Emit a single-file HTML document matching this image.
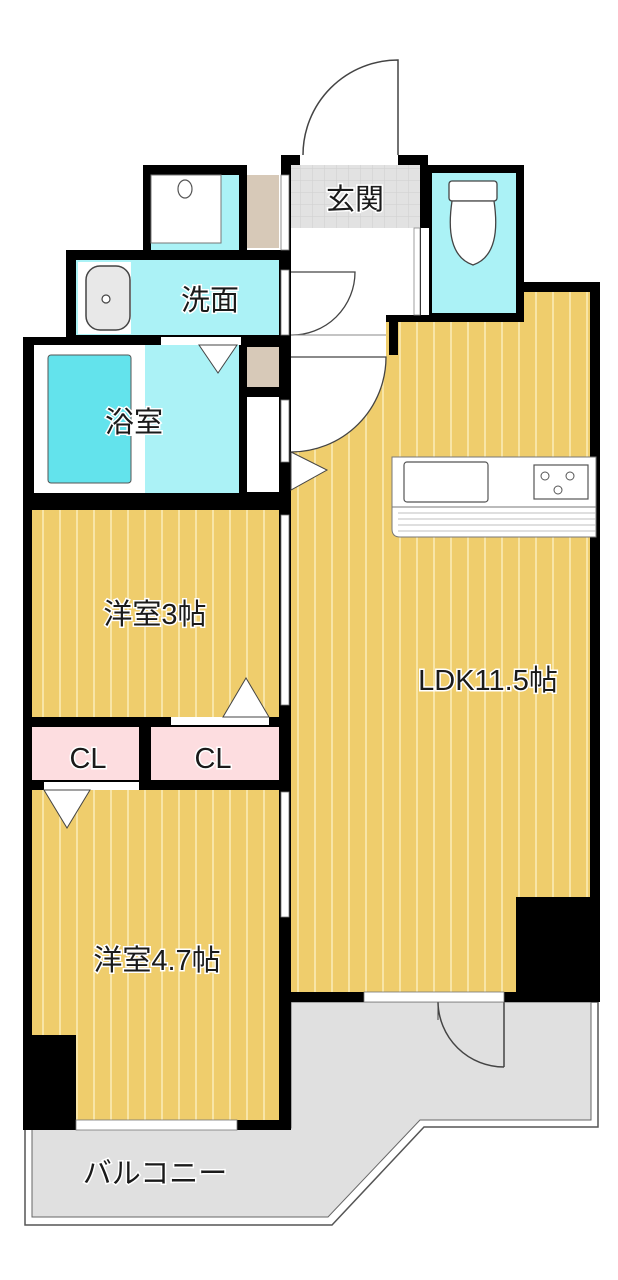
<!DOCTYPE html>
<html><head><meta charset="utf-8"><style>
html,body{margin:0;padding:0;background:#fff;}
svg{display:block;}
text{font-family:"Liberation Sans","Noto Sans CJK JP",sans-serif;fill:#1a1a1a;stroke:#fff;stroke-width:3px;paint-order:stroke;}
</style></head><body>
<svg width="618" height="1280" viewBox="0 0 618 1280" xmlns="http://www.w3.org/2000/svg">
<defs>
<pattern id="st" width="17" height="10" patternUnits="userSpaceOnUse">
<rect width="17" height="10" fill="#EFCD6C"/><rect x="8" width="2" height="10" fill="#F8E5A6"/>
</pattern>
<pattern id="tile" width="12" height="12" patternUnits="userSpaceOnUse">
<rect width="12" height="12" fill="#E2E2E2"/><path d="M0 0H12M0 0V12" stroke="#cfcfcf" stroke-width="1"/>
</pattern>
</defs>

<!-- balcony -->
<path d="M25 1128 V1225 H332 L424 1127 H598 V1002 H291 V1128 Z" fill="#fff" stroke="#555" stroke-width="1.5"/>
<path d="M32 1128 V1217 H328 L420 1120 H591 V1002 H291 V1128 Z" fill="#E0E0E0" stroke="#666" stroke-width="1"/>
<path d="M438 1002 A66 66 0 0 0 504 1067" fill="none" stroke="#444" stroke-width="1.5"/>
<line x1="504" y1="1002" x2="504" y2="1067" stroke="#444" stroke-width="1.5"/>
<line x1="438" y1="995" x2="438" y2="1020" stroke="#444" stroke-width="1"/>

<!-- entry door above -->
<path d="M398 155 V60 A95 95 0 0 0 303 155" fill="none" stroke="#444" stroke-width="1.5"/>

<rect x="143" y="165" width="104" height="85" fill="#000"/>
<rect x="66" y="250" width="225" height="95" fill="#000"/>
<rect x="23" y="337" width="268" height="166" fill="#000"/>
<rect x="23" y="503" width="268" height="627" fill="#000"/>
<rect x="281" y="155" width="147" height="310" fill="#000"/>
<rect x="428" y="165" width="96" height="150" fill="#000"/>
<path d="M388 315 H524 V282 H600 V1002 H281 V460 H388 Z" fill="#000"/>

<rect x="291" y="165" width="129" height="63" fill="url(#tile)"/>
<rect x="291" y="228" width="129" height="87" fill="#fff"/>
<rect x="291" y="315" width="95" height="145" fill="#fff"/>
<rect x="414" y="228" width="6" height="87" fill="#fff" stroke="#888" stroke-width="0.8"/>
<rect x="300" y="155" width="98" height="10" fill="#fff"/>
<path d="M291 272 H355 A63 63 0 0 1 291 335" fill="none" stroke="#444" stroke-width="1.3"/>
<line x1="291" y1="335" x2="386" y2="335" stroke="#888" stroke-width="1"/>

<rect x="247" y="175" width="32" height="73" fill="#D7C9B8"/>
<rect x="247" y="347" width="32" height="40" fill="#D7C9B8"/>
<rect x="281" y="175" width="8" height="75" fill="#fff" stroke="#777" stroke-width="0.8"/>
<rect x="281" y="270" width="8" height="65" fill="#fff" stroke="#777" stroke-width="0.8"/>
<rect x="281" y="400" width="8" height="62" fill="#fff" stroke="#777" stroke-width="0.8"/>
<rect x="247" y="397" width="32" height="95" fill="#fff"/>

<rect x="151" y="175" width="88" height="75" fill="#ABF2F6"/>
<rect x="151" y="175" width="70" height="68" fill="#fff" stroke="#777" stroke-width="1"/>
<ellipse cx="185" cy="189" rx="7" ry="9" fill="#fff" stroke="#555" stroke-width="1.2"/>
<rect x="76" y="260" width="203" height="75" fill="#ABF2F6"/>
<rect x="78" y="262" width="53" height="72" fill="#fff"/>
<rect x="86" y="266" width="44" height="64" rx="14" fill="#e8e8e8" stroke="#444" stroke-width="1.5"/>
<circle cx="106" cy="299" r="4" fill="#fff" stroke="#444" stroke-width="1.2"/>
<rect x="34" y="345" width="205" height="148" fill="#fff"/>
<rect x="145" y="345" width="94" height="148" fill="#ABF2F6"/>
<rect x="48" y="355" width="83" height="128" rx="3" fill="#63E3EC" stroke="#555" stroke-width="1"/>
<rect x="161" y="337" width="80" height="8" fill="#fff"/>
<path d="M199 345 H237 L218 373 Z" fill="#fff" stroke="#444" stroke-width="1"/>

<rect x="432" y="173" width="84" height="140" fill="#ABF2F6"/>
<rect x="421" y="228" width="8" height="87" fill="#fff"/>
<rect x="449" y="181" width="48" height="20" rx="3" fill="#fff" stroke="#444" stroke-width="1.3"/>
<path d="M452 201 Q444 255 473 265 Q502 255 494 201 Z" fill="#fff" stroke="#444" stroke-width="1.3"/>

<path d="M398 322 H524 V292 H590 V897 H516 V992 H291 V447 A95 95 0 0 0 386 357 V322 Z" fill="url(#st)"/>
<rect x="389" y="320" width="9" height="35" fill="#000"/>
<path d="M291 357 H386 A95 95 0 0 1 291 452" fill="#fff" stroke="#444" stroke-width="1.3"/>
<path d="M291 452 L327 470 L291 490 Z" fill="#fff" stroke="#444" stroke-width="1"/>
<rect x="364" y="992" width="140" height="10" fill="#fff" stroke="#777" stroke-width="0.8"/>
<rect x="392" y="457" width="204" height="50" fill="#fff" stroke="#777" stroke-width="1"/>
<rect x="404" y="462" width="84" height="40" rx="3" fill="#fff" stroke="#555" stroke-width="1.2"/>
<rect x="534" y="465" width="54" height="34" fill="#fff" stroke="#555" stroke-width="1.2"/>
<circle cx="545" cy="476" r="4" fill="none" stroke="#555"/><circle cx="570" cy="476" r="4" fill="none" stroke="#555"/><circle cx="558" cy="490" r="4" fill="none" stroke="#555"/>
<path d="M392 507 H596 V537 H400 Q392 537 392 529 Z" fill="#fff" stroke="#777" stroke-width="1"/>
<path d="M398 513H596M398 519H596M398 525H596M398 531H596" stroke="#aaa" stroke-width="0.8"/>

<rect x="32" y="510" width="247" height="207" fill="url(#st)"/>
<rect x="281" y="515" width="8" height="190" fill="#fff" stroke="#777" stroke-width="0.8"/>
<rect x="171" y="717" width="98" height="8" fill="#fff"/>
<path d="M223 717 H269 L246 678 Z" fill="#fff" stroke="#444" stroke-width="1"/>
<rect x="32" y="727" width="107" height="53" fill="#FDDDE0"/>
<rect x="151" y="727" width="128" height="53" fill="#FDDDE0"/>
<rect x="44" y="782" width="95" height="8" fill="#fff"/>
<rect x="32" y="790" width="247" height="330" fill="url(#st)"/>
<path d="M44 790 H90 L67 828 Z" fill="#fff" stroke="#444" stroke-width="1"/>
<rect x="23" y="1035" width="53" height="95" fill="#000"/>
<rect x="76" y="1120" width="161" height="10" fill="#fff" stroke="#777" stroke-width="0.8"/>
<rect x="281" y="792" width="8" height="125" fill="#fff" stroke="#777" stroke-width="0.8"/>
<rect x="516" y="897" width="84" height="105" fill="#000"/>

<text x="355" y="209" font-size="29" text-anchor="middle">玄関</text>
<text x="210" y="310" font-size="29" text-anchor="middle">洗面</text>
<text x="134" y="432" font-size="29" text-anchor="middle">浴室</text>
<text x="155" y="624" font-size="29" text-anchor="middle">洋室3帖</text>
<text x="488" y="690" font-size="29" text-anchor="middle">LDK11.5帖</text>
<text x="88" y="768" font-size="29" text-anchor="middle">CL</text>
<text x="213" y="768" font-size="29" text-anchor="middle">CL</text>
<text x="157" y="970" font-size="29" text-anchor="middle">洋室4.7帖</text>
<text x="155" y="1183" font-size="29" text-anchor="middle">バルコニー</text>
</svg>
</body></html>
